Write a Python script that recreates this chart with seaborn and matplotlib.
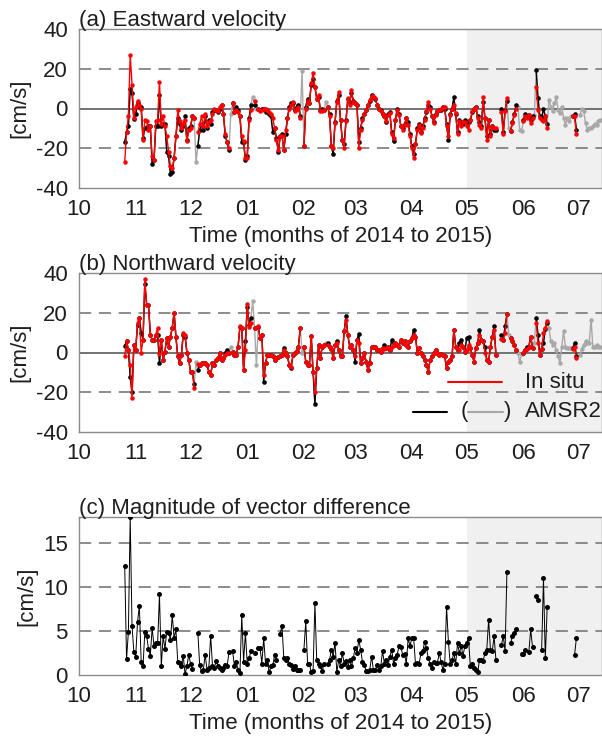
import numpy as np
import pandas as pd
import seaborn as sns
import matplotlib
matplotlib.use('Agg')
import matplotlib.pyplot as plt
import matplotlib.dates as mdates

nan = np.nan

# daily values, 2014-10-26 .. 2015-07-13
dates = pd.date_range('2014-10-26', '2015-07-13', freq='D')

# (a) eastward velocity, in situ [cm/s]
u_insitu = ([-27, -12, -4, 27, 12, -5]
    + [1, 4, 2, 0, -16, -6, -6.5, -11, -9, -24, -26, -6.5, -6, 13.5, -8, -4, -9, -14, -22, -29,
       -30, -25, -14, -1, -6.5, -10, -8, -6, -16.5, -11]
    + [-10, -4, -5, nan, -12, -8, -4, -9, -3, -9, -7, -6, -3, 0, -1, -1.5, 1, 2, -3, -13,
       -17, -20, nan, 3, -2, -1, -2, -4, -14, -16.5, -25]
    + [-25, -6, -1, nan, 4, nan, 0, -1.5, -1, 0, 0, -1, -2, -3, -5, -10, -16, -21, -14, -14,
       -21, -11, -5, 0, 2, 3.5, -1.5, 0, 1, -5, nan]
    + [-19, 0, 4, 2.7, 12.7, 17.7, 11, 5, 7, -1.5, -1.5, -1, nan, 1, -3.7, -19, -20, -7.3, 3.5, 8.5,
       -5.7, -15.7, -20, -6.5, 5.2, 1.8, 9.3, 3.5]
    + [3, 2, -20, -10.7, -5.7, -3, -1, 1.8, 4.3, 6.3, 6.3, 5.2, 1.8, 0, -1.5, -2.7, -4, -6.5, -3.2, -2.3,
       -13, -15, -6, -0.7, -3.2, -8.7, -10.7, -8.2, -4.8, -8.2, -14]
    + [-20, -25, -18, -10.7, -8.2, -12.3, -9.8, -5.7, -1.5, 3.5, 0, -4, -7.3, -3.2, -1.5, -1, 0, 1, 1, -9,
       -14, -3.2, 0, 2, -2.3, -13, -6.5, -9, -7, -7]
    + [-9, -10.7, -5.7, -1.5, 0, 1, -4.8, -8.2, -9.8, 6, -4.8, -15.7, -5.7, -14, -9, -9.8, -10, nan, nan, -2,
       -13, -1.5, 5.2, nan, -11.5, -7.3, -3.2, 0, nan, nan, nan]
    + [-6.5, -4, -5, -3.2, -7.3, -4.8, nan, 11, -0.7, -4.8, -5.7, -6.5, -4, -9.8]
    + [nan] * 13 + [-4, -4, -13]
    + [nan] * 13)

# (a) eastward velocity, AMSR2
u_amsr2 = ([-17, -12, -9, 10, 8, -5.5]
    + [-3, 3, 1, 1, -15, -10, -10, -9, -9, -28, -26, -9, -9, 7, -9, -8, -8, -22, -24, -33,
       -32, -25, -14, -5, -8, -11, -9, -4, -16, -10]
    + [-9, -4, -5, -27, -19, -11, -8, -11, -4, -10, -6, -8, -2, -1, -1, -2, 0, 2, -3, -14,
       -17, -21, -3, 3, -2, 1, -1, -4, -17, -17, -26]
    + [-24, -5, 2, 6, 2, 0, 0, -1, 0, 0, -2, -1, -3, -4, -12, -10, -15, -22, -14, -13,
       -21, -13, -5, 1, 3, 3, -1, 1, 2, -4, 19]
    + [-19, 1, 5, 3, 12, 15, 11, 5, 6, -1, 0, -1, 3.5, 1, -3, -19, -23, -7, 4, 7,
       -6, -16, -18, -6, 5, 3, 8, 4]
    + [3, 2, -17, -10, -5, -3, -1, 2, 4, 7, 6, 5, 2, 0, -1, -3, -4, -7, -3, -2,
       -12, -16.5, -6, 0, -3, -9, -10, -8, -5, -7, -13]
    + [-19, -23, -18, -10, -8, -12, -9, -5, -2, 2, 1, -4, -7, -3, -1.5, -1, -1, 1, 0, -8,
       -15.7, -3, 0, 5.7, -3, -12, -6, -7, -8, -6]
    + [-7, -7, -6, -2, 0, 1, -4, -7, -9, 3.5, -5, -14, -6, -13, -9, -10.7, -10.7, nan, nan, 0,
       -12, -1, 4, -9.8, -11.5, -7, -3, 1.8, 1, -11, -11.5]
    + [-6, -3, -4.5, -3.2, -6, -4, -3.2, 19.3, 5.2, -4, -5, 0, -4, -8, 4.3, 1, -1.5, 2.7, 5.7, -0.7,
       -2.3, 1, -4.8, -8.2, -4.8, -6.5, -4, -4, -3, -10.7]
    + [nan, -3.2, 0, -1.5, -7.3, -10.7, -9.8, -9.8, -9, -8, -8.2, -6.5, -6])

# (b) northward velocity, in situ
v_insitu = ([-2, 5.6, 1.4, -6.3, -23, 4]
    + [1.4, 15, 17.5, 0, 6.4, 37, 24, 24, 9, 6.4, 6.4, 9, 12.4, -1, 6.4, -3.7, 0.5, 7.3, 3, 8,
       12.4, 20, 8, -2, -5.4, -1.2, 9.8, 9, 0, -3.7]
    + [-9.7, -9.7, -18, nan, -6, -6.3, -5.4, -5.4, -5.4, -6.3, -9.7, -11.4, -5.4, -6.3, -3.7, -2.9, 0, -3.7, -2.9, -1.2,
       0, 0, nan, 0.5, -1.2, -1.2, 3, 13.2, 12.4, -8.8, 1.4]
    + [24.2, 13, 15, nan, 12.4, nan, 13.2, 7.3, 9, -11.4, -5.4, -1.2, -1.2, -1.5, -2, -3.7, -2.9, -2.5, -2, -1.2,
       1.5, 0, -2, -6.3, -7.1, -1.2, 0, 0.7, 3, 12.4, nan]
    + [3, -4.6, -6.3, -6.3, 8.1, -9.7, -20, -8, 3.9, -2.9, 3, 3.9, nan, 4, 3, 2, -2.9, 3.9, 5, 1.4,
       -2, -2, 10.7, 16.6, 9, 3, 3.9, 1.4]
    + [-2, 6.4, 5, -5.4, -2.9, 0, -4.6, -8.8, -5.4, 3, 3, 3, 1.4, 1.4, 0.5, 2.2, 2, 2.2, 3, 1.4,
       3, 3.9, 4.7, 4, 3, 6.4, 5, 5.6, 4, 3, 5.6]
    + [7.3, 9, 8, 0, 2.2, 0, -2, -3.7, -6.3, -9.7, -3.7, -2, 0, 1.4, 0, -1.2, -1, -1.2, -2, -8,
       -4.6, -3.7, -2, 11.5, 3, 1.4, 1.4, 4, 3, 0.5]
    + [1.4, 3.9, 2.2, -1.2, -4.6, 2.2, 4.7, 9, 6.4, 5.6, 0, -3.7, -4.6, 3, 8, 11.5, -1.2, nan, nan, 7,
       6.4, 10, 19.2, nan, 7.3, 5.6, 3.9, 1.4, nan, nan, nan]
    + [0, 1.4, 2, 3, 8, 2.2, nan, 15, 5, -1.2, 2, 9.8, 12.4, 15.8]
    + [nan] * 13 + [2, 3, -2.9]
    + [nan] * 13)

# (b) northward velocity, AMSR2
v_amsr2 = ([3.4, 5.6, 1.4, -12.5, -20, 4]
    + [1.4, 14, 17.5, 10, 6.4, 34.4, 24, 24, 9, 6.4, 6.4, 9, 9, -5.4, 6.4, -3.7, 0.5, 7.3, 3, 8,
       12.4, 20, 8, -2, -5.4, -1.2, 9, 8, 0, -3.7]
    + [-9.7, -9.7, -16, -4.6, -8.8, -6.3, -5.4, -5.4, -5.4, -6.3, -9.7, -11.4, -5.4, -6.3, -3.7, -2.9, 0, -3.7, -2.9, 0,
       1.4, 0, 3, 0.5, -1.2, -1.2, 3, 13, 12.4, -8.8, 5.6]
    + [23, 14, 17.5, 26, 12.4, -6.3, 13, 7.3, 9, -14.7, -5.4, -1.2, -1.2, -1.5, -2, -3.7, -2.9, -2.5, -2, -1.2,
       2.2, 0, -2, -6.3, -8, -1.2, 0, 0.7, 3, 12.4, 0]
    + [3, -4.6, -6.3, -6.3, 8.1, -9.7, -26, -8, 3.9, -2.9, 3, 3.9, 4.7, 4.7, 3, 2, -2.9, 3.9, 5.6, 1.4,
       -2, -2, 10.7, 18.3, 9, 3, 3.9, 1.4]
    + [-4.6, 6.4, 9.3, -5.4, -2.9, 0, -4.6, -8.8, -5.4, 3, 3, 3, 1.4, 1.4, 0.5, 2.2, 3.9, 2.2, 3, 1.4,
       6.4, 3.9, 4.7, 4, 3, 6.4, 5, 5.6, 4, 3, 5.6]
    + [7.3, 11.5, 8, 0, 2.2, 0, -2, -3.7, -6.3, -9.7, -3.7, -2, 0, 1.4, 0, -1.2, -1, -1.2, -2, -8,
       -4.6, -3.7, -2, 11.5, 3, 1.4, 4.7, 6.4, 3, 0.5]
    + [7.3, 8, 2.2, -1.2, -4.6, 2.2, 4.7, 11.5, 6.4, 5.6, 3, -3.7, -4.6, 3, 8, 13.2, -1.2, nan, nan, 9,
       6.4, 13.2, 19.2, 9, 7.3, 5.6, 3.9, 1.4, 0, -4.9, -1]
    + [0, 1.4, 3, 3, 8, 2.2, 5, 17.5, 9, -1.2, 2, 4.7, 12, 15, 12.4, 5.6, 3.9, 4.7, 1.4, -2,
       -5.4, 3, 10.7, 3, 2.2, 2.2, 2.2, 2.2, 4.7, -2]
    + [nan, -1.2, 2, 3.9, 5.6, 4.7, 4.7, 16.6, 3, 3, 3.9, 3, 3])

# (c) magnitude of vector difference
vec_diff = ([12.4, 1.8, 4.9, 18, 5.6, 2.6]
    + [2.1, 6, 7.9, 1.5, 1, 4.9, 4.4, 3, 2.2, 5.4, 3.3, 3.6, 3.6, 9.2, 1, 4.4, 3, 4.9, 4.8, 4,
       6.8, 4.2, 5.2, 1.5, 1.4, 1, 2.2, 0.1, 1, 2.3]
    + [1.3, 0.7, nan, nan, 4.8, 1.1, 0.4, 0.6, 2.3, 0.6, 0.8, 4.5, 1, 0.8, 1.6, 1, 0.8, 0.6, 0.8, 1.1,
       1, 2.6, nan, 2.7, 1, 1.5, 0.6, 0.2, 6.8, 1.5, 4.8]
    + [1.3, 1.9, 2.7, nan, 2.5, nan, 3.1, 3.1, 1.3, 4.2, 1.3, 1.7, 0.3, 1, 1.1, 2.3, 1.7, nan, 4.7, 5.6,
       1.9, 1.7, 1.9, 1.3, 1.1, 0.7, 1, 0.6, 0.6, 0.6, nan]
    + [2.9, 6.1, 1.3, 1.3, 0.3, 0.4, 8.2, 1.7, 1.3, 1, 0.4, 1.3, nan, 1.3, 1.7, 2.9, 2.1, 3.7, 0.3, 1.7,
       1, 2.5, 1.3, 1.6, 0.9, 1.7, 1, 1.9]
    + [3.1, 2.5, 4, 2.9, 1.5, 1.1, 0.5, 0.4, 0.6, 2.1, 0.6, 0.6, 1.1, 0.6, 1, 2.7, 1.3, 1.7, 1.1, 2.1,
       2.9, 1.3, 1.9, 2.3, 3.3, 3.2, 2.3, 2.4, 1.3, 4.2, 3.3]
    + [4.2, 4.2, 1.3, 1.4, 1.3, 2.5, 2.7, 3.8, 3.1, 1.9, 1.3, 0.8, 1.5, 1.4, 1.4, 2.5, 1.5, 0.6, 1.3, 7.8,
       3.8, 1.3, 1.7, 2.5, 1.3, 3.6, 2.5, 3.3, 2.2, 3.3]
    + [3.7, 4.2, 1, 1.3, 0.8, 0.6, 0.3, 1.7, 1.7, 1.6, 2.5, 2.9, 6.3, 2.9, 2.7, 4.4, 1.7, nan, nan, 3.4,
       4.4, 2.7, 11.7, nan, 3.6, 4.4, 4.8, 5.2, nan, nan, 2.4]
    + [2.4, 2.9, nan, 2.6, 5.2, 3.2, nan, 9, 8.6, nan, 2.9, 11, 1.9, 7.7]
    + [nan] * 14 + [2.3, 4.2]
    + [nan] * 13)

shade_start = pd.Timestamp('2015-05-01')
x_min = pd.Timestamp('2014-10-01')
x_max = pd.Timestamp('2015-07-14')

RED = '#ff0000'
GRAY = '#a8a8a8'
FRAME = '#8a8a8a'
TXT = '#1e1e1e'
FS = 16

sns.set_style('white')
plt.rcParams['font.family'] = ['Liberation Sans', 'DejaVu Sans']
plt.rcParams['font.size'] = FS
plt.rcParams['axes.unicode_minus'] = False


def segs(values):
    # split a series at its gaps so lines do not bridge missing days
    s = pd.Series(values, index=dates, dtype=float)
    df = pd.DataFrame({'date': dates, 'val': s.values, 'seg': s.isna().cumsum().values})
    return df.dropna()


def draw(ax, values, color, lw=1.0, ms=3.2, z=2):
    df = segs(values)
    sns.lineplot(data=df, x='date', y='val', units='seg', estimator=None, color=color,
                 linewidth=lw, marker='o', markersize=ms, markeredgewidth=0, ax=ax,
                 zorder=z, legend=False)


def style_axes(ax, ylim, yticks, dashed, zero=True):
    ax.set_xlim(x_min, x_max)
    ax.set_ylim(*ylim)
    ax.set_yticks(yticks)
    ax.axvspan(shade_start, x_max, color='#f0f0f0', zorder=0, lw=0)
    for yv in dashed:
        ax.axhline(yv, color='#6e6e6e', lw=1.1, ls=(0, (8, 5)), zorder=1)
    if zero:
        ax.axhline(0, color='#5a5a5a', lw=1.2, zorder=1)
    ax.xaxis.set_major_locator(mdates.MonthLocator())
    ax.xaxis.set_major_formatter(mdates.DateFormatter('%m'))
    for sp in ax.spines.values():
        sp.set_color(FRAME)
        sp.set_linewidth(1.0)
    ax.tick_params(direction='in', length=3, color=FRAME, labelsize=FS, labelcolor=TXT, pad=8)
    ax.set_ylabel('[cm/s]', fontsize=FS, color=TXT, labelpad=4)
    ax.set_xlabel('')


fig = plt.figure(figsize=(6.02, 7.38), dpi=100)
left, width = 79 / 602, 523 / 602
ax_a = fig.add_axes([left, 1 - 188 / 738, width, 159 / 738])
ax_b = fig.add_axes([left, 1 - 432 / 738, width, 159 / 738])
ax_c = fig.add_axes([left, 1 - 675 / 738, width, 158 / 738])

insitu_mask_u = pd.isna(pd.Series(u_insitu, dtype=float)).values
insitu_mask_v = pd.isna(pd.Series(v_insitu, dtype=float)).values

# (a)
draw(ax_a, u_amsr2, GRAY)
draw(ax_a, np.where(insitu_mask_u, nan, np.array(u_amsr2, dtype=float)), 'black', z=3)
draw(ax_a, u_insitu, RED, z=4)
style_axes(ax_a, (-40, 40), [-40, -20, 0, 20, 40], [-20, 20])
ax_a.set_xlabel('Time (months of 2014 to 2015)', fontsize=FS, color=TXT, labelpad=4)
ax_a.set_title('(a) Eastward velocity', loc='left', fontsize=FS, pad=2, x=0.0, color=TXT)

# (b)
draw(ax_b, v_amsr2, GRAY)
draw(ax_b, np.where(insitu_mask_v, nan, np.array(v_amsr2, dtype=float)), 'black', z=3)
draw(ax_b, v_insitu, RED, z=4)
style_axes(ax_b, (-40, 40), [-40, -20, 0, 20, 40], [-20, 20])
ax_b.set_title('(b) Northward velocity', loc='left', fontsize=FS, pad=2, x=0.0, color=TXT)

# legend drawn by hand, as in the original figure
tr = ax_b.transAxes
ax_b.plot([0.706, 0.809], [0.314, 0.314], color=RED, lw=1.5, transform=tr, zorder=5)
ax_b.text(0.853, 0.314, 'In situ', transform=tr, va='center', ha='left', fontsize=FS, color=TXT, zorder=5)
ax_b.plot([0.639, 0.704], [0.126, 0.126], color='black', lw=1.5, transform=tr, zorder=5)
ax_b.text(0.730, 0.126, '(', transform=tr, va='center', ha='left', fontsize=FS, color=TXT, zorder=5)
ax_b.plot([0.744, 0.810], [0.126, 0.126], color=GRAY, lw=1.5, transform=tr, zorder=5)
ax_b.text(0.813, 0.126, ')', transform=tr, va='center', ha='left', fontsize=FS, color=TXT, zorder=5)
ax_b.text(0.853, 0.126, 'AMSR2', transform=tr, va='center', ha='left', fontsize=FS, color=TXT, zorder=5)

# (c)
draw(ax_c, vec_diff, 'black', lw=0.7, ms=3.6, z=3)
style_axes(ax_c, (0, 18), [0, 5, 10, 15], [5, 10, 15], zero=False)
ax_c.set_xlabel('Time (months of 2014 to 2015)', fontsize=FS, color=TXT, labelpad=4)
ax_c.set_title('(c) Magnitude of vector difference', loc='left', fontsize=FS, pad=2, x=0.0, color=TXT)

fig.savefig('out.png', dpi=100)
